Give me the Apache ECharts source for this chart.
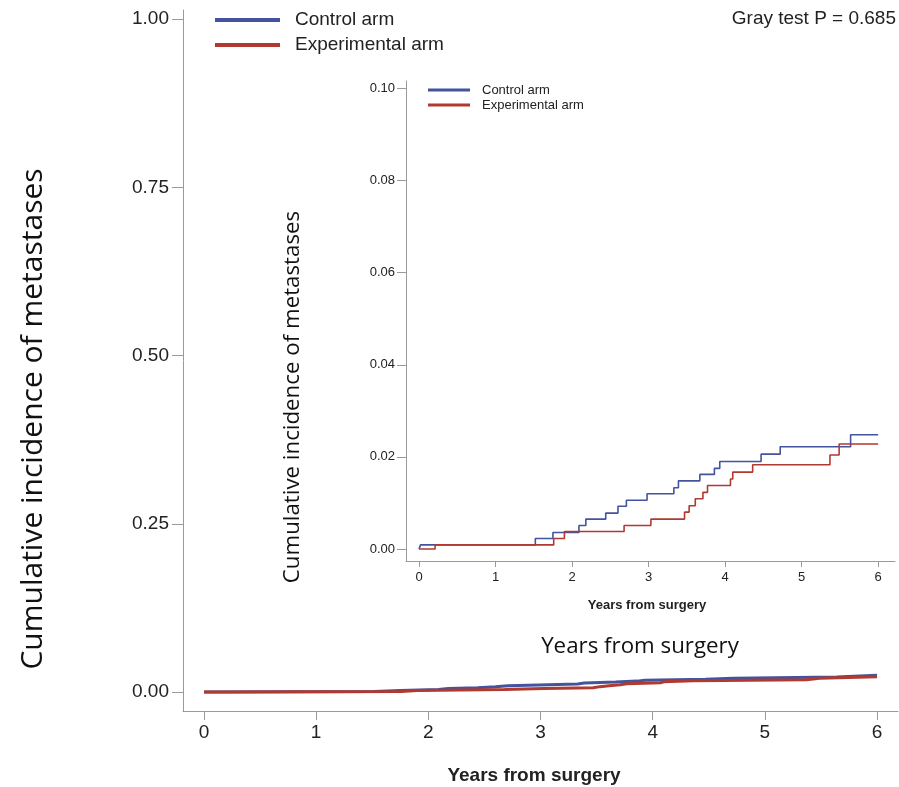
<!DOCTYPE html>
<html>
<head>
<meta charset="utf-8">
<script src="https://cdn.jsdelivr.net/npm/echarts@6/dist/echarts.min.js"></script>
<style>
html,body{margin:0;padding:0;background:#fff;}
#chart{width:899px;height:787px;}
</style>
</head>
<body>
<div id="chart"></div>
<script>
// ---- data ----
const xTicks = [0, 1, 2, 3, 4, 5, 6];
const mainYTicks = [0, 0.25, 0.5, 0.75, 1];
const insetYTicks = [0, 0.02, 0.04, 0.06, 0.08, 0.10];

const controlTimes  = [0, 0.02, 1.52, 1.75, 2.09, 2.18, 2.44, 2.60, 2.71, 2.98, 3.33, 3.39, 3.67, 3.86, 3.93, 4.47, 4.72, 5.64, 6.0];
const controlValues = [0, 0.0009, 0.0023, 0.0036, 0.0051, 0.0065, 0.0078, 0.0093, 0.0106, 0.0120, 0.0133, 0.0148, 0.0162, 0.0175, 0.0190, 0.0206, 0.0222, 0.0248, 0.0248];

const expTimes  = [0, 0.21, 1.76, 1.90, 2.68, 3.03, 3.47, 3.53, 3.61, 3.71, 3.77, 4.07, 4.10, 4.36, 5.37, 5.49, 6.0];
const expValues = [0, 0.0009, 0.0023, 0.0038, 0.0051, 0.0065, 0.0080, 0.0094, 0.0109, 0.0123, 0.0138, 0.0152, 0.0167, 0.0183, 0.0204, 0.0228, 0.0228];

const seriesNames = ['Control arm', 'Experimental arm'];
const grayText = 'Gray test P = 0.685';
const yTitle = 'Cumulative incidence of metastases';
const xTitle = 'Years from surgery';

// ---- build ----
const BLUE = '#44539e';
const RED = '#b03a30';
const AX = '#9a9a9a';
const TXT = '#222';
const LAB = 'Liberation Sans, Arial, sans-serif';
const SEG = 'Open Sans, Noto Sans, sans-serif';

function pairs(t, v) { return t.map((x, i) => [x, v[i]]); }

const chart = echarts.init(document.getElementById('chart'), null, {renderer: 'canvas'});

function xAx(gi, min, max, fs, tickLen, margin) {
  return {
    type: 'value', gridIndex: gi, min: min, max: max,
    splitLine: {show: false},
    axisLine: {show: true, onZero: false, lineStyle: {color: AX, width: 1}},
    axisTick: {show: true, customValues: xTicks, length: tickLen, lineStyle: {color: AX}},
    axisLabel: {show: true, customValues: xTicks, fontSize: fs, fontFamily: LAB, color: TXT, margin: margin,
      formatter: v => String(Math.round(v))}
  };
}
function yAx(gi, min, max, ticks, fs, tickLen, margin) {
  return {
    type: 'value', gridIndex: gi, min: min, max: max,
    splitLine: {show: false},
    axisLine: {show: true, onZero: false, lineStyle: {color: AX, width: 1}},
    axisTick: {show: true, customValues: ticks, length: tickLen, lineStyle: {color: AX}},
    axisLabel: {show: true, customValues: ticks, fontSize: fs, fontFamily: LAB, color: TXT, margin: margin,
      formatter: v => v.toFixed(2)}
  };
}

const option = {
  animation: false,
  backgroundColor: '#fff',
  grid: [
    {left: 183, right: 1, top: 10, bottom: 76},
    {left: 406, right: 4, top: 81, bottom: 226}
  ],
  xAxis: [
    xAx(0, -0.187, 6.187, 19, 9, 12),
    xAx(1, -0.17, 6.22, 13, 6, 10)
  ],
  yAxis: [
    yAx(0, -0.0282, 1.0134, mainYTicks, 19, 11, 14),
    yAx(1, -0.0026, 0.1016, insetYTicks, 13, 9, 11)
  ],
  legend: [
    {
      data: seriesNames, orient: 'vertical', left: 210, top: 5,
      icon: 'rect', itemWidth: 65, itemHeight: 4, itemGap: 5,
      textStyle: {fontSize: 19, fontFamily: LAB, color: TXT, lineHeight: 20, padding: [0, 0, 0, 10]},
      selectedMode: false
    },
    {
      data: seriesNames, orient: 'vertical', left: 423, top: 78,
      icon: 'rect', itemWidth: 42, itemHeight: 3, itemGap: 1,
      textStyle: {fontSize: 13, fontFamily: LAB, color: TXT, lineHeight: 14, padding: [0, 0, 0, 7]},
      selectedMode: false
    }
  ],
  series: [
    {name: seriesNames[0], type: 'line', step: 'end', xAxisIndex: 0, yAxisIndex: 0, showSymbol: false,
      data: pairs(controlTimes, controlValues), lineStyle: {color: BLUE, width: 3}, itemStyle: {color: BLUE}},
    {name: seriesNames[1], type: 'line', step: 'end', xAxisIndex: 0, yAxisIndex: 0, showSymbol: false,
      data: pairs(expTimes, expValues), lineStyle: {color: RED, width: 3}, itemStyle: {color: RED}},
    {name: seriesNames[0], type: 'line', step: 'end', xAxisIndex: 1, yAxisIndex: 1, showSymbol: false,
      data: pairs(controlTimes, controlValues), lineStyle: {color: BLUE, width: 1.6}, itemStyle: {color: BLUE}},
    {name: seriesNames[1], type: 'line', step: 'end', xAxisIndex: 1, yAxisIndex: 1, showSymbol: false,
      data: pairs(expTimes, expValues), lineStyle: {color: RED, width: 1.6}, itemStyle: {color: RED}}
  ],
  graphic: [
    {type: 'text', x: 896, y: 19, style: {text: grayText, fontSize: 19, fontFamily: LAB, fill: TXT, textAlign: 'right', textVerticalAlign: 'middle'}},
    {type: 'text', x: 33, y: 419, rotation: Math.PI / 2, style: {text: yTitle, fontSize: 30, fontFamily: SEG, fill: '#111', textAlign: 'center', textVerticalAlign: 'middle'}},
    {type: 'text', x: 293, y: 397, rotation: Math.PI / 2, style: {text: yTitle, fontSize: 22.3, fontFamily: SEG, fill: '#111', textAlign: 'center', textVerticalAlign: 'middle'}},
    {type: 'text', x: 640, y: 647, style: {text: xTitle, fontSize: 22.3, fontFamily: SEG, fill: '#111', textAlign: 'center', textVerticalAlign: 'middle'}},
    {type: 'text', x: 647, y: 605, style: {text: xTitle, fontSize: 13, fontWeight: 'bold', fontFamily: LAB, fill: TXT, textAlign: 'center', textVerticalAlign: 'middle'}},
    {type: 'text', x: 534, y: 776, style: {text: xTitle, fontSize: 19, fontWeight: 'bold', fontFamily: LAB, fill: TXT, textAlign: 'center', textVerticalAlign: 'middle'}}
  ]
};
chart.setOption(option);
</script>
</body>
</html>
